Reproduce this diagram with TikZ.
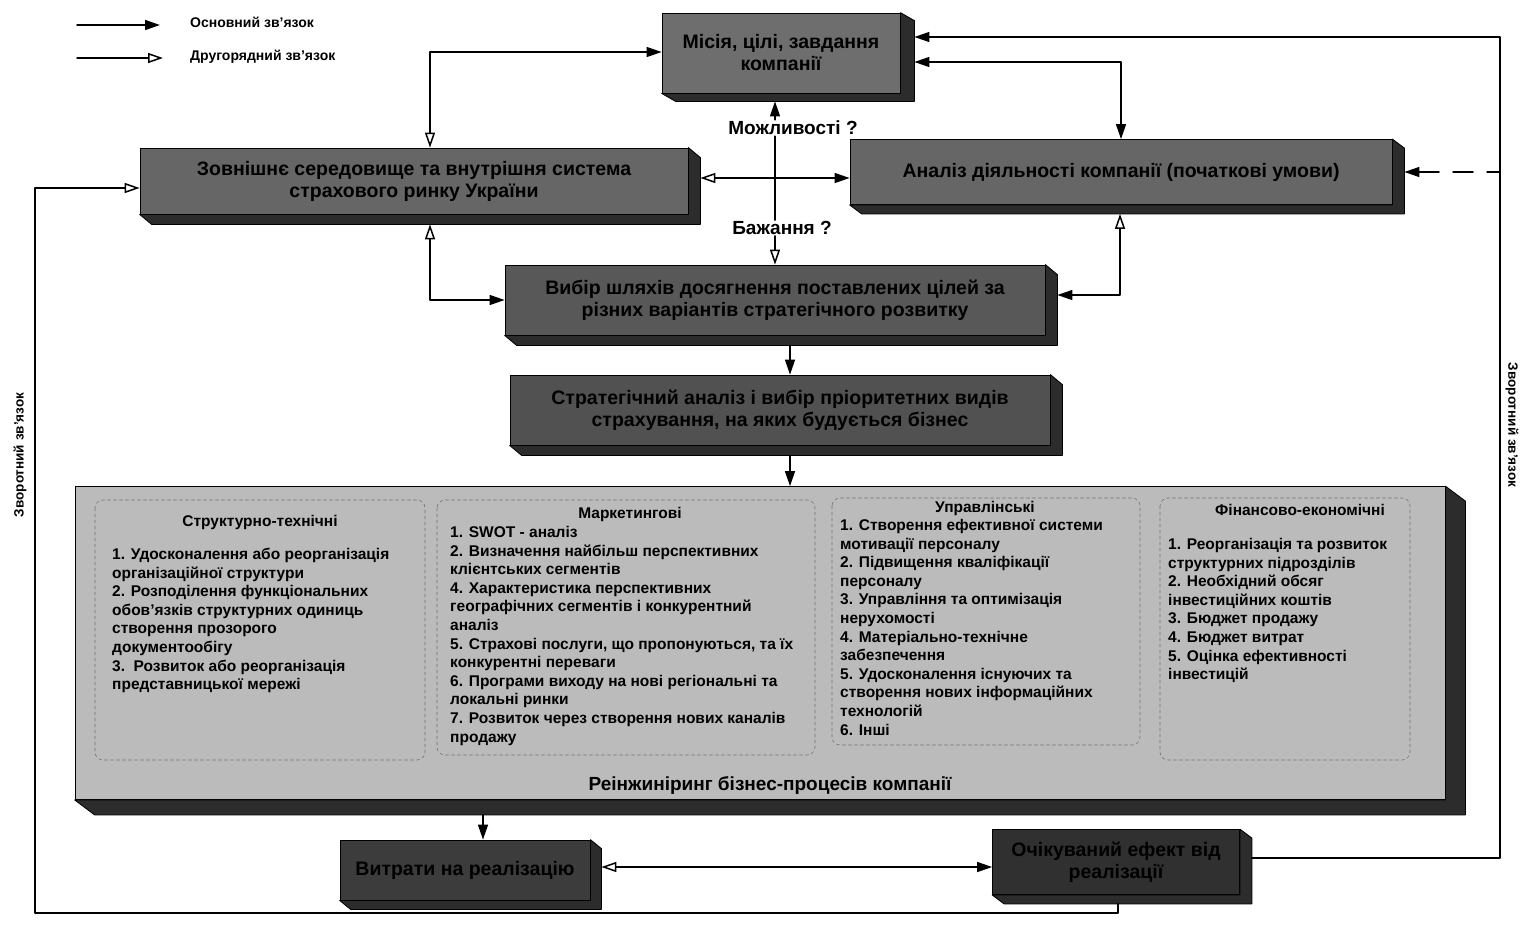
\documentclass[tikz,border=0pt]{standalone}
\usepackage{fontspec}
\setmainfont{Liberation Sans}
\usetikzlibrary{arrows.meta,calc}
\definecolor{misgray}{HTML}{6E6E6E}
\definecolor{envgray}{HTML}{666666}
\definecolor{vybgray}{HTML}{585858}
\definecolor{costgray}{HTML}{3C3C3C}
\definecolor{biggray}{HTML}{BBBBBB}
\definecolor{sidegray}{HTML}{2C2C2C}
\tikzset{
    tipmain/.tip={Triangle[length=15pt,width=10pt]},
    tipopen/.tip={Triangle[open,length=15pt,width=10pt,fill=white]},
    block/.style={draw=black,line width=0.8pt,inner sep=0pt,align=center,
        font=\bfseries\fontsize{19.5}{22}\selectfont},
    link/.style={line width=1.5pt},
    legend/.style={inner sep=0pt,font=\bfseries\fontsize{14}{16}\selectfont},
    colhead/.style={inner sep=0pt,font=\bfseries\fontsize{15.5}{18}\selectfont},
    coltext/.style={inner sep=0pt,anchor=north west,align=left,
        font=\bfseries\fontsize{15.5}{18.6}\selectfont},
    colframe/.style={draw=black!55,dashed,line width=0.6pt,rounded corners=8pt},
    qlabel/.style={inner sep=1pt,font=\bfseries\fontsize{19}{22}\selectfont}
}
\begin{document}
\begin{tikzpicture}[line cap=round,line join=round,>=tipmain,x=1pt,y=-1pt]
\useasboundingbox (0,0) rectangle (1522,927);
% legend
\coordinate (lg1a) at (77,25);
\coordinate (lg1b) at (160,25);
\coordinate (lg2a) at (77,58);
\coordinate (lg2b) at (163,58);
\draw[link,-tipmain] (lg1a) -- (lg1b);
\draw[link,-tipopen] (lg2a) -- (lg2b);
\node[legend,anchor=west] (lgmain) at (190,22) {Основний зв'язок};
\node[legend,anchor=west] (lgsec) at (190,57) {Другорядний зв'язок};
% blocks
\node[block,fill=misgray,minimum width=238pt,minimum height=80pt] (mis) at (781,53)
    {Місія, цілі, завдання\\компанії};
\node[block,fill=envgray,minimum width=548pt,minimum height=66pt] (env) at (414,181)
    {Зовнішнє середовище та внутрішня система\\страхового ринку України};
\node[block,fill=envgray,minimum width=542pt,minimum height=65pt] (anal) at (1121,172)
    {Аналіз діяльності компанії (початкові умови)};
\node[block,fill=vybgray,minimum width=540pt,minimum height=70pt] (vyb) at (775,300)
    {Вибір шляхів досягнення поставлених цілей за\\різних варіантів стратегічного розвитку};
\node[block,fill=vybgray!92!black,minimum width=540pt,minimum height=70pt] (strat) at (780,410)
    {Стратегічний аналіз і вибір пріоритетних видів\\страхування, на яких будується бізнес};
\node[block,fill=biggray,minimum width=1370pt,minimum height=313pt] (big) at (760,643) {};
\node[block,fill=costgray,minimum width=250pt,minimum height=60pt] (cost) at (465,870)
    {Витрати на реалізацію};
\node[block,fill=costgray!80!black,minimum width=247pt,minimum height=65pt] (res) at (1116,862)
    {Очікуваний ефект від\\реалізації};
% block depth
\foreach \n/\dx/\dy in {mis/14/8,env/12/10,anal/12/9,vyb/12/10,strat/12/10,big/20/15,cost/11/9,res/12/9}
\filldraw[draw=black,line width=0.8pt,fill=sidegray] (\n.north east) -- ++(\dx,\dy)
    -- ($(\n.south east)+(\dx,\dy)$) -- ($(\n.south west)+(\dx,\dy)$) -- (\n.south west)
    -- (\n.south east) -- cycle;
% reengineering columns
\draw[colframe] (95,500) rectangle (425,760);
\draw[colframe] (437,500) rectangle (815,755);
\draw[colframe] (832,498) rectangle (1140,745);
\draw[colframe] (1160,498) rectangle (1410,760);
\node[colhead] (hstr) at (260,522) {Структурно-технічні};
\node[colhead] (hmark) at (630,514) {Маркетингові};
\node[colhead] (hman) at (985,508) {Управлінські};
\node[colhead] (hfin) at (1300,510) {Фінансово-економічні};
\node[coltext] (tstr) at (112,548) {1. Удосконалення або реорганізація\\
    організаційної структури\\
    2. Розподілення функціональних\\
    обов'язків структурних одиниць\\
    створення прозорого\\
    документообігу\\
    3.\ \ Розвиток або реорганізація\\
    представницької мережі};
\node[coltext] (tmark) at (450,526) {1. SWOT - аналіз\\
    2. Визначення найбільш перспективних\\
    клієнтських сегментів\\
    4. Характеристика перспективних\\
    географічних сегментів і конкурентний\\
    аналіз\\
    5. Страхові послуги, що пропонуються, та їх\\
    конкурентні переваги\\
    6. Програми виходу на нові регіональні та\\
    локальні ринки\\
    7. Розвиток через створення нових каналів\\
    продажу};
\node[coltext] (tman) at (840,519) {1. Створення ефективної системи\\
    мотивації персоналу\\
    2. Підвищення кваліфікації\\
    персоналу\\
    3. Управління та оптимізація\\
    нерухомості\\
    4. Матеріально-технічне\\
    забезпечення\\
    5. Удосконалення існуючих та\\
    створення нових інформаційних\\
    технологій\\
    6. Інші};
\node[coltext] (tfin) at (1168,538) {1. Реорганізація та розвиток\\
    структурних підрозділів\\
    2. Необхідний обсяг\\
    інвестиційних коштів\\
    3. Бюджет продажу\\
    4. Бюджет витрат\\
    5. Оцінка ефективності\\
    інвестицій};
\node[inner sep=0pt,font=\bfseries\fontsize{19}{22}\selectfont] (reeng) at (770,785)
    {Реінжиніринг бізнес-процесів компанії};
% labels
\coordinate (ax) at (775,0);
\node[qlabel] (mozh) at (793,128) {Можливості ?};
\node[qlabel] (bazh) at (782,228) {Бажання ?};
\node[inner sep=0pt,rotate=90,font=\bfseries\fontsize{13.5}{15}\selectfont] (fbl) at (20,455) {Зворотний зв'язок};
\node[inner sep=0pt,rotate=-90,font=\bfseries\fontsize{13.5}{15}\selectfont] (fbr) at (1512,425) {Зворотний зв'язок};
% connectors
\draw[link,-tipmain] (mozh.north -| ax) -- ($(mis.south -| ax)+(0,8)$);
\draw[link] (mozh.south -| ax) -- (bazh.north -| ax);
\draw[link,-tipopen] (bazh.south -| ax) -- (vyb.north -| ax);
\draw[link,tipopen-tipmain] ($(env.north)+(16,0)$) |- ($(mis.west)+(0,-1)$);
\draw[link,tipopen-tipmain] ($(env.east)+(12,-3)$) coordinate (e1) -- (e1 -| anal.west);
\draw[link,tipmain-tipmain] (anal.north) |- ($(mis.east)+(14,9)$);
\draw[link,tipopen-tipmain] ($(env.south)+(16,10)$) |- (vyb.west);
\draw[link,tipopen-tipmain] ($(anal.south)+(-1,9)$) |- ($(vyb.east)+(12,-5)$);
\draw[link,-tipmain] ($(vyb.south)+(15,10)$) coordinate (v1) -- (v1 |- strat.north);
\draw[link,-tipmain] ($(strat.south)+(10,10)$) coordinate (s1) -- (s1 |- big.north);
\draw[link,-tipmain] ($(big.south -| cost.north)+(18,15)$) -- ($(cost.north)+(18,0)$);
\draw[link,tipopen-tipmain] ($(cost.east)+(11,-3)$) coordinate (c1) -- (c1 -| res.west);
% feedback
\coordinate (rr) at (1500,37);
\coordinate (ll) at (35,913);
\draw[link,-tipmain] ($(res.east)+(12,-4)$) -| (rr) -- ($(mis.east)+(14,-16)$);
\draw[link,dash pattern=on 20pt off 14pt,tipmain-] ($(anal.east)+(12,0)$) -- (anal.east -| rr);
\draw[link,-tipopen] ($(res.south)+(2,9)$) |- (ll) |- ($(env.west)+(0,7)$);
\end{tikzpicture}
\end{document}
